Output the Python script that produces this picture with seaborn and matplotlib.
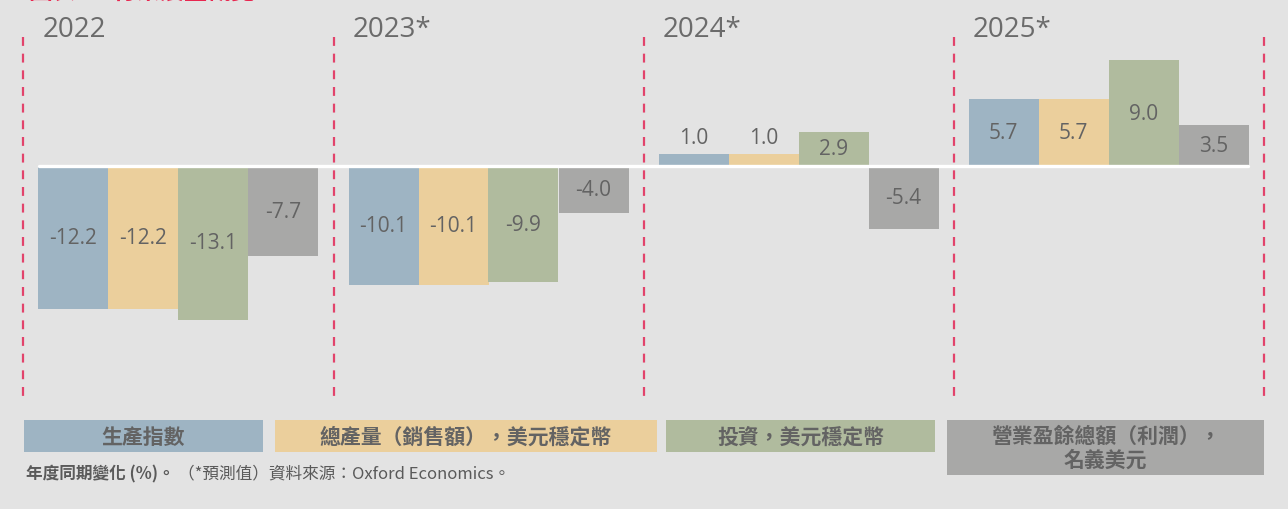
import numpy as np
import pandas as pd
import seaborn as sns
import matplotlib.pyplot as plt
from matplotlib.patches import Rectangle

years = ['2022', '2023*', '2024*', '2025*']
series = ['生產指數', '總產量（銷售額），美元穩定幣', '投資，美元穩定幣', '營業盈餘總額（利潤），\n名義美元']
values = {
    series[0]: [-12.2, -10.1, 1.0, 5.7],
    series[1]: [-12.2, -10.1, 1.0, 5.7],
    series[2]: [-13.1, -9.9, 2.9, 9.0],
    series[3]: [-7.7, -4.0, -5.4, 3.5],
}
colors = ['#9eb4c3', '#ebcf9c', '#b0bb9e', '#a8a8a7']
footer_bold = '年度同期變化 (%)。'
footer_text = '（*預測值）資料來源：Oxford Economics。'

rows = []
for s in series:
    for y, v in zip(years, values[s]):
        rows.append({'year': y, 'series': s, 'value': v})
df = pd.DataFrame(rows)

bg = '#e3e3e3'
txt = '#636363'
W, H = 1288, 510
px_unit = 11.75   # pixels per percentage point
zero_px = 167
grp_px = 310
c0_px = 178.5

sns.set_style('white')
plt.rcParams['font.family'] = ['Open Sans', 'Noto Sans CJK TC', 'DejaVu Sans']

fig = plt.figure(figsize=(W / 100, H / 100), dpi=100, facecolor=bg)
ax = fig.add_axes([0, 0, 1, 1])
ax.set_facecolor(bg)

sns.barplot(data=df, x='year', y='value', hue='series', palette=colors,
            width=280 / grp_px, saturation=1, legend=False, ax=ax, linewidth=0)

ax.set_xlim(-c0_px / grp_px, (W - c0_px) / grp_px)
ax.set_ylim(-(H - zero_px) / px_unit, zero_px / px_unit)
ax.axis('off')

# value labels
for cont in ax.containers:
    for bar in cont:
        h = bar.get_height()
        xc = bar.get_x() + bar.get_width() / 2
        if abs(h) < 2:
            ax.text(xc, h + 0.5, f'{h:.1f}', ha='center', va='bottom',
                    fontsize=15, color=txt)
        else:
            ax.text(xc, h / 2, f'{h:.1f}', ha='center', va='center',
                    fontsize=15, color=txt)

# zero line
ax.axhline(0, xmin=39 / W, xmax=1248 / W, color='white', lw=2.4)

# dashed separators and year titles
for i in range(len(years) + 1):
    ax.plot([i - 0.5, i - 0.5], [(zero_px - 38) / px_unit, (zero_px - 398) / px_unit],
            color='#e2436b', lw=1.6, ls=(0, (4, 3.5)))
for i, y in enumerate(years):
    ax.text(i - 0.5 + 19.5 / grp_px, (zero_px - 30) / px_unit, y, ha='left', va='center',
            fontsize=20, color='#6b6b6b')

# legend boxes
boxes = [(24, 263, 421, 453), (275, 657, 421, 453), (666, 935, 421, 453), (947, 1264, 421, 476)]
for (x0, x1, y0, y1), s, c in zip(boxes, series, colors):
    fig.patches.append(Rectangle((x0 / W, 1 - y1 / H), (x1 - x0) / W, (y1 - y0) / H,
                                 transform=fig.transFigure, facecolor=c, edgecolor='none'))
    fig.text((x0 + x1) / 2 / W, 1 - (y0 + y1) / 2 / H, s, ha='center', va='center',
             fontsize=15, fontweight='bold', color=txt, linespacing=1.15,
             family=['Noto Sans CJK TC', 'DejaVu Sans'])

# footer
fig.text(26 / W, 1 - 474 / H, footer_bold, ha='left', va='center', fontsize=12,
         fontweight='bold', color='#5a5a5a', family=['Noto Sans CJK TC', 'DejaVu Sans'])
fig.text(178 / W, 1 - 474 / H, footer_text, ha='left', va='center', fontsize=12,
         color='#5a5a5a', family=['Noto Sans CJK TC', 'DejaVu Sans'])

# cropped title at very top
fig.text(28 / W, 1 - 4 / H, '圖表2：行業展望概覽', ha='left', va='bottom', fontsize=17,
         fontweight='bold', color='#e8264f', family=['Noto Sans CJK TC', 'DejaVu Sans'])

fig.savefig('out.png', dpi=100, facecolor=bg)
